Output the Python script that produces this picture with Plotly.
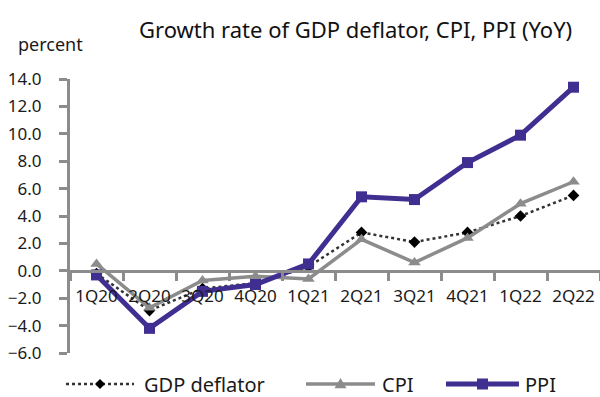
import plotly.graph_objects as go

quarters = ["1Q20", "2Q20", "3Q20", "4Q20", "1Q21", "2Q21", "3Q21", "4Q21", "1Q22", "2Q22"]
gdp_deflator = [-0.2, -2.9, -1.3, -0.9, 0.3, 2.8, 2.1, 2.8, 4.0, 5.5]
cpi = [0.5, -2.7, -0.7, -0.4, -0.6, 2.3, 0.6, 2.4, 4.9, 6.5]
ppi = [-0.3, -4.2, -1.5, -1.0, 0.5, 5.4, 5.2, 7.9, 9.9, 13.4]
y_ticks = [-6, -4, -2, 0, 2, 4, 6, 8, 10, 12, 14]

FONT = "Noto Sans"
AXIS_GREY = "#8c8c8c"
PURPLE = "#402e91"
GDP_LINE = "#333333"

W, H = 600, 397
ML, MR, MT, MB = 70, 0, 79, 44
PW, PH = W - ML - MR, H - MT - MB


def px(x):
    return (x - ML) / PW


def py(y):
    return (H - MB - y) / PH


fig = go.Figure()
fig.add_trace(go.Scatter(
    x=quarters, y=gdp_deflator, name="GDP deflator", mode="lines+markers",
    line=dict(color=GDP_LINE, width=2.5, dash="dot"),
    marker=dict(symbol="diamond", size=9, color="#000000"),
))
fig.add_trace(go.Scatter(
    x=quarters, y=cpi, name="CPI", mode="lines+markers",
    line=dict(color=AXIS_GREY, width=3.5),
    marker=dict(symbol="triangle-up", size=11, color=AXIS_GREY),
))
fig.add_trace(go.Scatter(
    x=quarters, y=ppi, name="PPI", mode="lines+markers",
    line=dict(color=PURPLE, width=5),
    marker=dict(symbol="square", size=11, color=PURPLE),
))

# Legend drawn below the plot with long sample lines
legend_y = 384
legend_items = [
    dict(x0=66, x1=134, text="GDP deflator", tx=142, line=dict(color=GDP_LINE, width=2.5, dash="dot"),
         marker="diamond", mcolor="#000000", msize=5),
    dict(x0=306, x1=375, text="CPI", tx=380, line=dict(color=AXIS_GREY, width=3.5),
         marker="triangle", mcolor=AXIS_GREY, msize=6),
    dict(x0=446, x1=519, text="PPI", tx=523, line=dict(color=PURPLE, width=5),
         marker="square", mcolor=PURPLE, msize=5.5),
]
shapes = []
annotations = []
for it in legend_items:
    shapes.append(dict(type="line", xref="paper", yref="paper",
                       x0=px(it["x0"]), x1=px(it["x1"]), y0=py(legend_y), y1=py(legend_y),
                       line=it["line"]))
    cx = (it["x0"] + it["x1"]) / 2
    s = it["msize"]
    if it["marker"] == "diamond":
        pts = [(cx, legend_y - s), (cx + s, legend_y), (cx, legend_y + s), (cx - s, legend_y)]
    elif it["marker"] == "triangle":
        pts = [(cx, legend_y - s), (cx + s, legend_y + s * 0.7), (cx - s, legend_y + s * 0.7)]
    else:
        pts = [(cx - s, legend_y - s), (cx + s, legend_y - s), (cx + s, legend_y + s), (cx - s, legend_y + s)]
    path = "M" + "L".join(f"{px(a):.5f},{py(b):.5f}" for a, b in pts) + "Z"
    shapes.append(dict(type="path", xref="paper", yref="paper", path=path,
                       fillcolor=it["mcolor"], line=dict(width=0)))
    annotations.append(dict(text=it["text"], xref="paper", yref="paper",
                            x=px(it["tx"]), y=py(legend_y), xanchor="left", yanchor="middle",
                            showarrow=False, font=dict(size=20, color="#1a1a1a")))

annotations += [
    dict(text="Growth rate of GDP deflator, CPI, PPI (YoY)", xref="paper", yref="paper",
         x=px(355), y=py(29), xanchor="center", yanchor="middle",
         showarrow=False, font=dict(size=22, color="#111111")),
    dict(text="percent", xref="paper", yref="paper",
         x=px(50), y=py(44), xanchor="center", yanchor="middle",
         showarrow=False, font=dict(size=18, color="#1a1a1a")),
]

fig.update_layout(
    width=W, height=H,
    margin=dict(l=ML, r=MR, t=MT, b=MB),
    paper_bgcolor="white", plot_bgcolor="white",
    font=dict(family=FONT, size=17, color="#1a1a1a"),
    showlegend=False,
    xaxis=dict(
        type="category", range=[-0.5, 9.5],
        anchor="free", position=6 / 20,
        showline=True, linecolor=AXIS_GREY, linewidth=3,
        ticks="outside", tickson="boundaries", ticklen=8, tickwidth=3,
        tickcolor=AXIS_GREY, showgrid=False, zeroline=False,
        tickangle=0, ticklabelstandoff=9, tickfont=dict(size=17),
    ),
    yaxis=dict(
        range=[-6, 14], tickvals=y_ticks, tickformat=".1f",
        showline=True, linecolor=AXIS_GREY, linewidth=3,
        ticks="outside", ticklen=8, tickwidth=3, tickcolor=AXIS_GREY,
        showgrid=False, zeroline=False, tickfont=dict(size=17),
        ticklabelstandoff=14,
    ),
    shapes=shapes,
    annotations=annotations,
)

fig.write_html("out.html")
